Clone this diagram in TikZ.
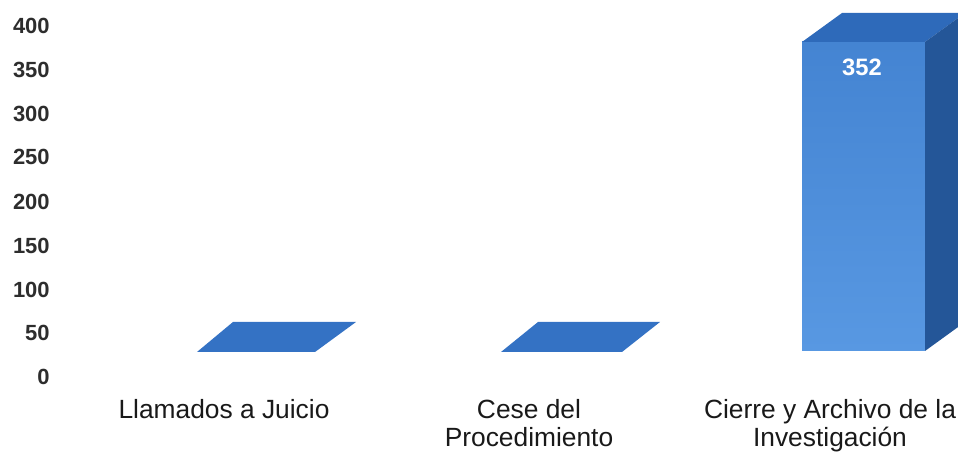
\documentclass[tikz,border=0pt]{standalone}
\usepackage{fontspec}
\setmainfont{Liberation Sans}
\definecolor{frontdark}{RGB}{68,132,210}
\definecolor{frontlight}{RGB}{88,152,226}
\definecolor{topblue}{RGB}{46,106,186}
\definecolor{sideblue}{RGB}{36,86,152}
\definecolor{floorblue}{RGB}{52,114,196}
\definecolor{axisgray}{RGB}{45,45,45}
\tikzstyle{ticklabel} = [anchor=east, inner sep=0pt, text=axisgray, font=\fontsize{12.5}{14}\selectfont\bfseries]
\tikzstyle{catlabel} = [anchor=north, align=center, inner sep=0pt, text=black!90, font=\fontsize{15}{16}\selectfont]
\tikzstyle{valuelabel} = [inner sep=0pt, text=white, font=\fontsize{13.5}{15}\selectfont\bfseries]
\tikzstyle{floorface} = [fill=floorblue]

\begin{document}
\begin{tikzpicture}[x=0.02cm, y=-0.02cm]
\useasboundingbox (0,0) rectangle (958,452);
\clip (0,0) rectangle (958,452);

% value axis
\foreach \v/\y in {0/377,50/333,100/290,150/246,200/202,250/157,300/114,350/70,400/26}
  \node (tick\v) [ticklabel] at (50,\y) {\v};

% bars with value 0 lie flat on the floor
\fill [floorface] (197,352) -- (315,352) -- (356,322) -- (233,322) -- cycle;
\fill [floorface] (501,352) -- (622,352) -- (660,322) -- (538,322) -- cycle;

% bar 352
\coordinate (fronttl) at (802,42);
\coordinate (fronttr) at (925,42);
\coordinate (frontbr) at (925,351);
\coordinate (backtl) at (842,13);
\coordinate (backtr) at (965,13);
\coordinate (backbr) at (965,322);
\shade [top color=frontdark, bottom color=frontlight] (fronttl) rectangle (frontbr);
\fill [topblue] (fronttl) -- (fronttr) -- (backtr) -- (backtl) -- cycle;
\fill [sideblue] (fronttr) -- (backtr) -- (backbr) -- (frontbr) -- cycle;
\node (valor) [valuelabel] at (862,67) {352};

% categories
\node (llamados) [catlabel] at (224,399) {Llamados a Juicio};
\node (cese) [catlabel] at (529,399) {Cese del\\Procedimiento};
\node (cierre) [catlabel] at (830,399) {Cierre y Archivo de la\\Investigación};

\end{tikzpicture}
\end{document}
